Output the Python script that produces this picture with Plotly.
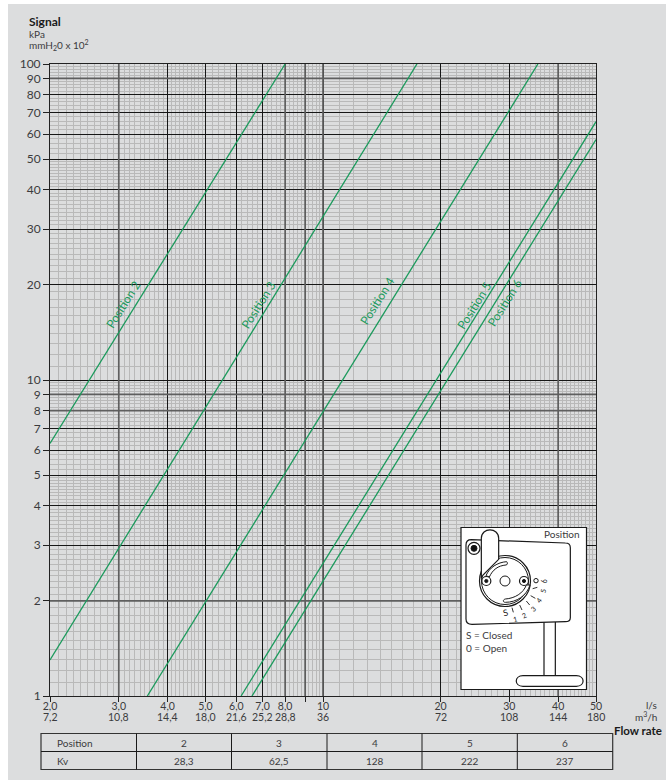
import re
import numpy as np
import plotly.graph_objects as go

W, H = 666, 780
L, R, T, B = 50, 596, 64, 696

flow_ls_ticks = [2, 3, 4, 5, 6, 7, 8, 9, 10, 20, 30, 40, 50]
flow_ls_text = ["2,0", "3,0", "4,0", "5,0", "6,0", "7,0", "8,0", "", "10", "20", "30", "40", "50"]
flow_m3h_text = ["7,2", "10,8", "14,4", "18,0", "21,6", "25,2", "28,8", "", "36", "72", "108", "144", "180"]
signal_ticks = [1, 2, 3, 4, 5, 6, 7, 8, 9, 10, 20, 30, 40, 50, 60, 70, 80, 90, 100]

dark_x = [3, 8, 9, 10, 40]
dark_y = [2, 8, 9, 90]

pos2_flow = [2.0, 8.0]
pos2_signal = [6.3, 100]
pos3_flow = [2.0, 17.4]
pos3_signal = [1.3, 100]
pos4_flow = [3.55, 35.5]
pos4_signal = [1, 100]
pos5_flow = [6.17, 50]
pos5_signal = [1, 65.7]
pos6_flow = [6.58, 50]
pos6_signal = [1, 57.7]

label_names = ["Position 2", "Position 3", "Position 4", "Position 5", "Position 6"]
label_flow = [3.08, 6.85, 13.8, 24.4, 29.2]
label_signal = [17.3, 17.3, 17.8, 17.2, 17.6]

table_head = ["Position", "2", "3", "4", "5", "6"]
table_kv = ["Kv", "28,3", "62,5", "128", "222", "237"]

GREEN = "#1b9a5c"
TXT = "#3b3b3d"
FONT = "Lato, Liberation Sans, sans-serif"
PANEL = "#dcddde"
MINOR = "#b9b9b9"


def minor_vals(ranges):
    out = []
    for a, b, s in ranges:
        out += [round(v, 3) for v in np.arange(a, b, s)]
    return [v for v in out if v not in flow_ls_ticks and v not in signal_ticks]


minor_x = minor_vals([(2, 5, 0.1), (5, 10, 0.2), (10, 50, 1)])
minor_y = minor_vals([(1, 5, 0.1), (5, 10, 0.2), (10, 50, 1), (50, 100, 2)])


def line_sets(vals, lo, hi, vertical):
    a, b = [], []
    for v in vals:
        if vertical:
            a += [v, v, None]
            b += [lo, hi, None]
        else:
            a += [lo, hi, None]
            b += [v, v, None]
    return a, b


fig = go.Figure()

xs, ys = line_sets(dark_x, 1, 100, True)
fig.add_trace(go.Scatter(x=xs, y=ys, mode="lines", line=dict(color="#5f5f5f", width=1.7), hoverinfo="skip"))
xs, ys = line_sets(dark_y, 2, 50, False)
fig.add_trace(go.Scatter(x=xs, y=ys, mode="lines", line=dict(color="#5f5f5f", width=1.7), hoverinfo="skip"))

for fx_, sy in [(pos2_flow, pos2_signal), (pos3_flow, pos3_signal), (pos4_flow, pos4_signal),
                (pos5_flow, pos5_signal), (pos6_flow, pos6_signal)]:
    fig.add_trace(go.Scatter(x=fx_, y=sy, mode="lines", line=dict(color=GREEN, width=1.3), hoverinfo="skip"))


def fx(p):
    return (p - L) / (R - L)


def fy(p):
    return (B - p) / (B - T)


def conv(path):
    toks = re.findall(r"[MLCQZAz]|-?\d+\.?\d*", path)
    out, i = [], 0
    for t in toks:
        if t.isalpha():
            out.append(t)
            i = 0
        else:
            v = float(t)
            out.append(f"{fx(v) if i % 2 == 0 else fy(v):.5f}")
            i += 1
    return " ".join(out)


shapes, ann = [], []


def rect(x0, y0, x1, y1, fill=None, lc="#1a1a1a", lw=1.0, layer="above"):
    shapes.append(dict(type="rect", xref="paper", yref="paper", x0=fx(x0), x1=fx(x1), y0=fy(y0), y1=fy(y1),
                       fillcolor=fill or "rgba(0,0,0,0)", line=dict(color=lc, width=lw), layer=layer))


def seg(x0, y0, x1, y1, lc="#1a1a1a", lw=1.0):
    shapes.append(dict(type="line", xref="paper", yref="paper", x0=fx(x0), x1=fx(x1), y0=fy(y0), y1=fy(y1),
                       line=dict(color=lc, width=lw), layer="above"))


def circ(cx, cy, r, fill="#ffffff", lw=1.0):
    rect(cx - r, cy - r, cx + r, cy + r, fill=fill, lw=lw)
    shapes[-1]["type"] = "circle"


def pth(d, fill="#ffffff", lw=1.0):
    shapes.append(dict(type="path", xref="paper", yref="paper", path=conv(d), fillcolor=fill,
                       line=dict(color="#1a1a1a", width=lw), layer="above"))


def text(x, y, s, size=10, anchor="left", color=TXT, angle=0):
    ann.append(dict(xref="paper", yref="paper", x=fx(x), y=fy(y), text=s, showarrow=False, xanchor=anchor,
                    yanchor="middle", font=dict(size=size, color=color, family=FONT), textangle=angle))


# grey panel behind everything
rect(8, 4, 668, 782, fill=PANEL, lc=PANEL, lw=0, layer="below")

# second row of flow labels
for v, s in zip(flow_ls_ticks, flow_m3h_text):
    if s:
        ann.append(dict(xref="x", yref="paper", x=np.log10(v), y=fy(716.5), text=s, showarrow=False, xanchor="center",
                        yanchor="middle", font=dict(size=10.5, color=TXT, family=FONT)))

# header and units
text(27, 21, "<b>Signal</b>", 12, color="#1a1a1a")
text(27, 34, "kPa", 10)
text(27, 45, "mmH<sub>2</sub>0 x 10<sup>2</sup>", 10)
text(659, 705, "l/s", 10, "right")
text(659, 716, "m<sup>3</sup>/h", 10, "right")
text(664, 730, "<b>Flow rate</b>", 11.5, "right", color="#1a1a1a")

# curve labels
for name, q, p in zip(label_names, label_flow, label_signal):
    ann.append(dict(xref="x", yref="y", x=np.log10(q), y=np.log10(p), text=name, showarrow=False, textangle=-58,
                    font=dict(size=12, color=GREEN, family=FONT)))

# table
col_x = [41, 136.5, 231.5, 327, 422, 517.3, 612.7]
row_y = [733.5, 751.5, 769.5]
rect(col_x[0], row_y[0], col_x[-1], row_y[-1], lc="#333333", lw=1.2)
seg(col_x[0], row_y[1], col_x[-1], row_y[1])
for c in col_x[1:-1]:
    seg(c, row_y[0], c, row_y[-1])
for row, vals in zip(row_y[:2], (table_head, table_kv)):
    for i, s in enumerate(vals):
        cy = row + 9
        if i == 0:
            text(55, cy, s, 10)
        else:
            text((col_x[i] + col_x[i + 1]) / 2, cy, s, 10, "center")

# inset schematic, points given as page pixels
ox, oy = 458, 525


def zx(z):
    return ox + z / 3


def zy(z):
    return oy + z / 3


def zp(s):
    nums = re.findall(r"[A-Za-z]|-?\d+\.?\d*", s)
    out, i = [], 0
    for t in nums:
        if t.isalpha():
            out.append(t)
            i = 0
        else:
            out.append(f"{zx(float(t)) if i % 2 == 0 else zy(float(t)):.2f}")
            i += 1
    return " ".join(out)


rect(461, 527.5, 586.5, 689.5, fill="#ffffff", lw=1.2)
# stem and foot
pth(zp("M 258 285 L 258 455 L 292 455 L 292 285 Z"), lw=1.2)
pth(zp("M 195 452 L 355 452 C 382 452 382 484 355 484 L 195 484 C 168 484 168 452 195 452 Z"), lw=1.2)
# plate
pth(zp("M 40 44 L 322 54 C 332 54 337 60 337 68 L 337 278 C 337 286 332 290 322 290 "
       "L 42 298 C 30 298 24 292 24 282 L 24 60 C 24 50 30 44 40 44 Z"), lw=1.2)
# disc
circ(zx(141), zy(168), 25.5, lw=1.2)
circ(zx(141), zy(168), 23.5, lw=1.0)
# lever
pth(zp("M 70 160 L 70 40 C 70 6 122 6 122 40 L 122 103 L 75 150 Z"), lw=1.2)
pth(zp("M 84 152 C 94 128 118 112 146 110 C 150 114 148 120 144 120 C 120 122 104 134 94 156 Z"), lw=1.0)
pth(zp("M 205 180 C 196 205 170 220 142 222 C 134 224 134 232 142 232 C 176 232 206 212 216 180 Z"), lw=1.0)
circ(zx(85), zy(168), 4.5, lw=1.2)
circ(zx(85), zy(168), 1.6, fill="#111111")
circ(zx(198), zy(168), 4.5, lw=1.2)
circ(zx(198), zy(168), 1.6, fill="#111111")
circ(zx(141), zy(168), 5, lw=1.0)
circ(zx(48), zy(70), 6, lw=1.2)
circ(zx(48), zy(70), 3, fill="#111111")
# dial marks
for a, b, c, d in [(162, 248, 166, 262), (185, 240, 192, 255), (205, 228, 215, 240), (218, 212, 232, 220),
                   (224, 191, 238, 187)]:
    seg(zx(a), zy(b), zx(c), zy(d), lw=0.9)
circ(zx(234), zy(167), 2.2, lw=1.0)
for s, a, b, ang in [("S", 141, 262, -15), ("1", 170, 281, -15), ("2", 199, 270, -25), ("3", 224, 251, -40),
                     ("4", 243, 226, -55), ("5", 254, 198, -75), ("6", 259, 168, -90)]:
    text(zx(a), zy(b), s, 7 if s != "S" else 9, "center", color="#1a1a1a", angle=ang)
text(582, 534, "Position", 10, "right")
text(464, 635, "S = Closed", 10)
text(464, 648, "0 = Open", 10)

fig.update_layout(
    width=W, height=H, margin=dict(l=L, r=W - R, t=T, b=H - B, pad=0),
    paper_bgcolor="#ffffff", plot_bgcolor="rgba(0,0,0,0)", showlegend=False,
    shapes=shapes, annotations=ann, font=dict(family=FONT, color=TXT, size=11),
    xaxis=dict(type="log", range=[np.log10(2), np.log10(50)], tickmode="array", tickvals=flow_ls_ticks,
               ticktext=flow_ls_text, ticks="outside", ticklen=5, tickcolor="#222222", tickangle=0,
               ticklabelstandoff=-5,
               showgrid=True, gridcolor="#161616", gridwidth=1,
               minor=dict(tickmode="array", tickvals=minor_x, showgrid=True, gridcolor=MINOR, gridwidth=1, ticks=""),
               showline=True, mirror=True, linecolor="#222222", linewidth=1, zeroline=False,
               tickfont=dict(size=10.5, color=TXT, family=FONT)),
    yaxis=dict(type="log", range=[0, 2], tickmode="array", tickvals=signal_ticks,
               ticktext=[str(v) for v in signal_ticks], ticks="outside", ticklen=6, tickcolor="#222222",
               showgrid=True, gridcolor="#161616", gridwidth=1,
               minor=dict(tickmode="array", tickvals=minor_y, showgrid=True, gridcolor=MINOR, gridwidth=1, ticks=""),
               showline=True, mirror=True, linecolor="#222222", linewidth=1, zeroline=False,
               tickfont=dict(size=12, color=TXT, family=FONT)),
)

fig.write_html("out.html", config=dict(displayModeBar=False),
               post_script="document.body.style.margin='0';document.body.style.overflow='hidden';")
